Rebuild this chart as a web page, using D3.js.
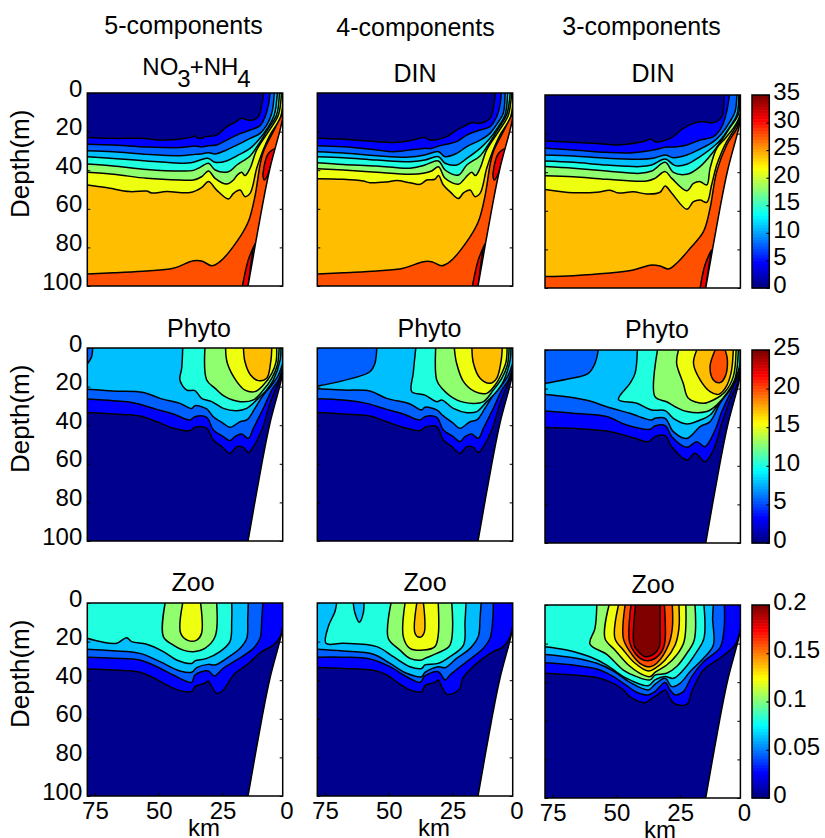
<!DOCTYPE html>
<html>
<head>
<meta charset="utf-8">
<script src="https://cdn.jsdelivr.net/npm/d3@7"></script>
<style>
  body { margin: 0; background: #fff; }
  svg { display: block; }
  text { font-family: "Liberation Sans", Arial, sans-serif; fill: #000; }
</style>
</head>
<body>
<div id="chart"></div>
<script>
// contour bands, lowest to highest
const bandColors = ['#00008f', '#0000ff', '#0060ff', '#00bfff', '#20ffdf', '#8fff70', '#efff10', '#ffbf00', '#ff5000', '#ef0000', '#800000'];

// each contour: [band above/inside it, [km, depth, km, depth, ...]]
const din5 = [
  [1, [78,23, 67.8,23.5, 57.5,23.5, 46.9,24.4, 36.4,22.6, 35.8,22.1, 35.1,23.1, 33.1,23.5, 31.9,22.6, 27.3,21.8, 23.4,17.5, 20.1,15.2, 17.5,13.1, 14.2,14.3, 11,12.3, 9.6,6.2, 8.8,0]],
  [2, [78,26.6, 67.8,27, 54.7,28, 41.7,28.3, 35.8,27.5, 33.2,28, 30.5,27.3, 27.3,26.9, 23.4,24.4, 19.4,21.8, 14.2,19.2, 10.3,16.9, 8.3,12.3, 7,6.2, 6.4,0]],
  [3, [78,29.9, 67.8,30.4, 54.7,31.8, 41.7,32.5, 35.8,31.8, 33.8,31.6, 30.5,30.9, 27.9,31.6, 23.4,29.5, 19.4,27, 14.2,23.5, 10.3,20.9, 7.7,16.6, 5.7,10.5, 4.7,0]],
  [4, [78,33, 67.8,33.9, 54.7,35.2, 41.7,36.4, 36.4,35.9, 33.8,34.7, 30.5,33.9, 27.9,35.9, 23.4,35.2, 19.4,32.6, 14.2,28.7, 10.9,24.4, 7,17.4, 4.7,11.4, 3.5,0]],
  [5, [78,36.8, 67.8,37.8, 54.7,39.6, 41.7,40.4, 36.4,40.1, 33.8,38.5, 30.5,36.4, 27.9,39.9, 22.7,40.8, 19.4,37.3, 14.2,32.6, 10.9,26.6, 7,18.3, 3.8,11.4, 2.7,0]],
  [6, [78,41.1, 67.8,42.1, 54.7,44.2, 41.7,45.1, 36.4,45.1, 33.2,43.4, 30.5,40.4, 27.9,44.2, 23.4,47.2, 20.7,45.1, 19.4,42.8, 17.5,41.1, 16.2,42.8, 14.2,39, 11.6,29.5, 7,20, 3.1,11.4, 1.9,0]],
  [7, [78,47.7, 70.7,49, 61.3,51.1, 54.7,50.8, 52.8,51.8, 46.9,51.1, 37.7,51.6, 33.2,49, 30.5,45.9, 27.3,50.3, 22.7,54.9, 20.7,52, 18.1,50.3, 16.2,53.7, 14.2,52, 11.6,39, 9.6,31.3, 6.4,21.8, 2.4,13.1, 1.4,6.2]],
  [8, [78,93.8, 67.8,93.1, 54.7,92.2, 44.3,90.8, 36.4,86.9, 33.2,87, 29.2,89.5, 26,87.4, 19.4,77, 14.9,66.7, 12.2,52.9, 10.3,37.3, 9,30.4, 5.1,20, 1.4,10.5]],
  [9, [9.2,42.5, 8.3,35.6, 7,31.3, 4.4,29, 5.7,35.6, 7,41.6, 8.6,45.1, 9.2,42.5]],
  [9, [17.2,100, 14.9,86.5, 12.2,77.9, 12.9,80.5, 14.9,100]]
];

const din4 = [
  [1, [78,23.5, 67.8,24, 54.7,25.2, 49.5,25.7, 41.7,24.7, 35.8,23.1, 33.8,24.4, 27.3,22.6, 23.4,19.2, 20.7,17.4, 17.5,15.4, 14.2,15.7, 10.3,13.1, 9,7.9, 8.2,0]],
  [2, [78,27.3, 67.8,27.8, 54.7,29.5, 48.2,30.4, 36.4,28.7, 33.2,28.7, 30.5,27.5, 27.3,26.6, 23.4,25.2, 19.4,21.8, 14.2,19.2, 10.3,17.4, 7.7,12.3, 6.4,6.2, 5.9,0]],
  [3, [78,30.4, 67.8,31.1, 54.7,32.5, 41.7,33.2, 35.8,32.1, 30.5,30.4, 27.9,33, 23.4,31.3, 19.4,27.8, 14.2,24.4, 10.3,20.9, 7,14.9, 5.1,10.5, 4.4,0]],
  [4, [78,33, 67.8,33.5, 54.7,34.7, 41.7,35.6, 35.8,34.7, 30.5,33, 27.9,36.4, 23.4,37.3, 19.4,33.9, 14.2,28.7, 10.9,24.4, 7,17.4, 4.4,11.4, 3.4,0]],
  [5, [78,36.1, 67.8,37, 54.7,37.8, 41.7,39, 35.8,37.3, 30.5,35.2, 27.9,39.9, 22.7,42.5, 19.4,37.3, 14.2,32.6, 10.9,26.6, 7,18.3, 3.8,11.4, 2.4,0]],
  [6, [78,39.2, 67.8,39.9, 54.7,41.1, 41.7,42.1, 36.4,41.6, 33.2,40.4, 30.5,38.2, 27.9,44.2, 22.7,47.3, 20.7,45.1, 19.2,42.8, 17.5,41.1, 16,42.8, 14.2,39, 11.6,29.5, 7,20, 3.1,11.4, 1.8,0]],
  [7, [78,44.4, 67.8,44.7, 60,45.6, 57.4,46.5, 50.8,46.1, 46.9,45.4, 41.7,46.5, 37.7,47.3, 35.1,45.1, 31.9,44.7, 30.5,42.8, 28.6,47.7, 26,51.1, 22.7,54.7, 20.7,51.8, 18.1,50.3, 16.2,53.7, 14.2,52, 11.6,39, 9.6,31.3, 6.4,21.8, 2.4,13.1, 1.4,6.2]],
  [8, [78,93.8, 67.8,93.1, 54.7,92.2, 44.3,90.8, 36.4,87.4, 33.2,87.4, 29.2,89.5, 26,87.4, 19.4,77, 14.9,66.7, 12.2,52.9, 10.3,37.3, 9,30.4, 5.1,20, 1.4,10.5]],
  [9, [9.2,42.5, 8.3,35.6, 7,31.3, 4.4,29, 5.7,35.6, 7,41.6, 8.6,45.1, 9.2,42.5]],
  [9, [17.2,100, 14.9,86.5, 12.2,77.9, 12.9,80.5, 14.9,100]]
];

const din3 = [
  [1, [78,23.8, 66.9,24.5, 56.4,25.2, 49.9,25.9, 40.8,24.5, 36.2,23, 34.9,24.2, 29,22.5, 23.8,17.3, 19.8,14.7, 16.6,13.8, 12,14.3, 8.7,11.2, 7.8,0]],
  [2, [78,27.6, 66.9,28.5, 53.8,29.7, 43.4,29.9, 35.5,28.5, 30.9,27.1, 26.4,26.8, 22.4,25.9, 17.2,23.3, 12,21.6, 8.7,16.4, 6.8,8.6, 5.7,0]],
  [3, [78,31.1, 66.9,31.6, 53.8,32.8, 40.8,33.3, 35.5,32.8, 30.9,31.1, 27.7,32.5, 22.4,31.1, 17.2,28, 12,24.2, 8.7,19.9, 5.5,13.8, 3.5,8.6, 2.8,0]],
  [4, [78,34.2, 66.9,34.9, 53.8,36.3, 40.8,37.1, 36.2,36.3, 30.9,33.2, 27,36.6, 22.4,35.9, 17.2,31.9, 12,26.8, 8.7,22.5, 5.5,16.4, 2.8,10.4, 2,0]],
  [5, [78,37.1, 66.9,38, 53.8,39.4, 40.8,40.6, 36.2,39.4, 30.9,34.9, 27.7,40.1, 22.4,41.1, 17.2,37.1, 12,29.4, 8.7,23.3, 5.5,16.9, 2.2,10, 1.8,0]],
  [6, [78,41.8, 66.9,42.3, 53.8,43.7, 38.1,44.6, 34.9,43.2, 30.9,39.7, 28.3,43.2, 22.4,49.6, 19.8,45.8, 17.2,44.9, 14.6,46.6, 13.3,38, 10.7,27.6, 7.4,22.5, 4.2,17.3, 1.5,10.4, 1.5,4.5]],
  [7, [78,48.9, 66.9,50.6, 57.7,50.4, 52.5,49.4, 49.2,50.8, 43.4,50.1, 38.1,51.3, 32.9,50.4, 30.9,47.1, 28.3,50.9, 22.4,59.2, 19.8,55.3, 17.2,54.4, 14.6,55.6, 12.7,46.6, 10.7,36.3, 8.7,29.4, 6.8,24.2, 2.8,15.5, 1.4,9.7]],
  [8, [78,94.1, 66.9,93.6, 53.8,92.4, 43.4,90.7, 36.8,88.2, 32.9,88.6, 29.6,90.1, 26.4,87.2, 21.1,79.4, 15.9,70.8, 13.3,58.7, 10.7,39.7, 6.8,25.9, 2.8,17.3, 1.3,11.2]],
  [9, [17.2,100, 15.3,88.1, 12.7,80.3, 13.3,84.6, 15,100]]
];

const phyto5 = [
  [1, [78,33.4, 67.8,34.2, 57.4,35.2, 50.8,38.2, 44.3,41.6, 37.7,42.8, 35.8,41.1, 31.2,41.6, 28.6,47.7, 25.3,51.1, 22.1,54.6, 19.4,51.1, 16.8,51.5, 14.9,54.2, 12.9,51.1, 9.6,42.5, 6.4,28.7, 3.8,20, 1.4,12.3]],
  [2, [78,26.4, 67.8,27.3, 58.7,28.7, 50.8,31.8, 44.3,34.2, 37.7,37.3, 35.8,35.6, 31.2,35.9, 28.6,42.5, 24.7,45.9, 22.1,48, 20.1,45.9, 17.5,44.6, 14.9,46.8, 12.9,41.6, 9,31.3, 5.7,21.8, 3.1,16.6, 1.4,10.5]],
  [3, [78,21.4, 67.8,22.3, 56,23, 49.5,26.1, 41.7,28.7, 37.1,31.3, 35.8,29.9, 31.2,31.6, 28.6,35.6, 24.7,39, 22.1,41.1, 18.1,38.2, 15.5,37.3, 12.3,31.3, 9,24.4, 5.7,19.2, 3.1,14, 1.4,7.9]],
  [2, [78,8.3, 76.3,4.5, 75.9,0]],
  [4, [40.6,0, 41,10.5, 41.7,16.6, 39,21.8, 35.8,22.1, 33.2,26.1, 29.2,27.8, 24.7,31.3, 19.4,32.5, 15.5,31.3, 11.6,26.9, 8.3,22.6, 5.1,16.6, 2.4,6.2, 2.1,0]],
  [5, [31.9,0, 31.2,16.6, 27.9,20.9, 24,25.2, 18.1,27.8, 12.9,26.9, 9,21.8, 5.7,15.7, 3.5,8.8, 2.8,0]],
  [6, [23.8,0, 23.1,7.9, 19.4,17.4, 16.2,21.8, 12.3,22.6, 9,19.2, 5.7,13.1, 4,7.1, 3.8,0]],
  [7, [16.8,0, 16.2,7.1, 14,14, 11,16.9, 7.7,15.7, 6.1,7.1, 5.7,0]]
];

const phyto4 = [
  [1, [78,33.4, 67.8,34.2, 57.4,35.2, 50.8,38.2, 44.3,41.1, 37.7,42.8, 35.8,41.1, 31.2,40.8, 28.6,47.7, 25.3,51.1, 22.1,54.6, 19.4,51.1, 16.8,51.5, 14.9,54.2, 12.9,51.1, 9.6,42.5, 6.4,28.7, 3.8,20, 1.4,12.3]],
  [2, [78,26.3, 67.8,27, 58.7,28.7, 50.8,31.8, 44.3,34.2, 37.7,37.3, 35.8,35.6, 31.2,35.9, 28.6,42.5, 24.7,45.9, 22.1,48.5, 20.1,45.9, 17.5,44.6, 14.9,46.8, 12.9,41.6, 9,31.3, 5.7,21.8, 3.1,16.6, 1.4,10.5]],
  [3, [78,21.1, 67.8,21.8, 57.4,22.3, 50.8,26.1, 41.7,29, 37.1,32.1, 35.8,30.7, 31.2,32.1, 28.6,35.2, 24.7,39, 22.1,41.6, 18.1,38.2, 15.5,37.3, 12.3,31.3, 9,24.4, 5.7,19.2, 3.1,14, 1.4,7.9]],
  [2, [78,19.7, 67.8,16.9, 57.4,12.3, 55.4,7.9, 54.7,0]],
  [4, [39.4,0, 40.4,13.1, 41,22.6, 35.8,24.4, 31.2,27.8, 29.2,26.9, 24.7,31.3, 19.4,33.5, 15.5,33, 11.6,27.8, 8.3,23.5, 5.1,17.4, 2.4,6.2, 2.1,0]],
  [5, [31.6,0, 31.2,16.6, 29.2,20.9, 23.4,26.9, 16.8,28.7, 12.9,27.8, 9,21.8, 5.7,15.7, 3.5,8.8, 2.8,0]],
  [6, [24.3,0, 23.4,7.9, 20.7,17.4, 16.2,22.6, 11.6,23.5, 8.3,19.2, 5.7,13.1, 4,7.1, 3.6,0]],
  [7, [17.4,0, 16.8,7.9, 14.2,15.7, 10.3,18.3, 7.7,15.7, 6,7.1, 5.5,0]]
];

const phyto3 = [
  [1, [78,40.1, 66.9,40.6, 53.8,42, 44.7,44.9, 37.5,47.5, 34.9,44.9, 30.9,44.4, 28.3,50.1, 22.4,57, 19.2,53.5, 15.3,57.9, 12,51.8, 8.7,38, 5.5,25.9, 2.8,18.1, 1.5,12.1]],
  [2, [78,31.6, 66.9,32.8, 53.8,34.5, 46,38.9, 36.8,41.1, 34.9,39.4, 30.9,39.2, 28.3,44.9, 22.4,50.4, 18.5,47.5, 15.3,50.1, 11.3,41.4, 8.7,31.9, 4.8,20.7, 1.5,11.2]],
  [3, [78,23, 69.5,24.2, 60.4,26.4, 53.8,29.4, 44.7,32.8, 36.2,36.3, 34.9,35.4, 30.9,35.4, 27.7,42.3, 22.4,45.8, 17.2,39.7, 13.3,37.1, 9.4,27.6, 5.5,19.9, 1.5,9.5]],
  [2, [78,17.3, 69.5,15.2, 61,12.1, 58.4,6.9, 57.1,0]],
  [4, [41.8,0, 42.7,12.1, 44.7,17.3, 49.2,25.6, 42,27.6, 36.2,31.1, 30.9,31.4, 27.7,35.4, 22.4,38.3, 17.2,36.3, 13.3,33.7, 9.4,26.8, 5.5,20.7, 1.8,8.6, 1.5,0]],
  [5, [33.9,0, 34.9,24.2, 30.3,26.8, 27,29.4, 22.4,31.9, 14.6,31.9, 10.7,28.5, 6.8,22.5, 3.5,14.7, 2.2,0]],
  [6, [25.7,0, 26.4,6.9, 23.8,17.3, 21.8,25, 15.9,27.6, 12,25.9, 7.4,21.6, 4.2,13.8, 3.1,0]],
  [7, [18.5,0, 19.8,6.9, 17.2,15.5, 13.3,21.6, 10,23, 7.4,19.9, 5.1,12.1, 4.2,0]],
  [8, [11.3,0, 13.3,8.6, 12,15.5, 9.4,16.9, 7.4,13.8, 6.5,5.2, 7.4,0]]
];

const zoo5 = [
  [1, [78,34.2, 67.8,34.7, 57.4,35.9, 52.1,38.7, 46.9,42.5, 41.7,45.4, 37.1,45.9, 35.8,43.3, 31.9,41.6, 30.6,40.4, 29.2,43.3, 27.3,46.8, 24.7,45.1, 22.1,39.9, 20.1,36.4, 15.5,32.1, 9.6,25.2, 5.1,21.8, 2.4,17.4, 1.4,12.3]],
  [2, [78,28.1, 67.8,28.6, 57.4,29.5, 49.5,33.8, 44.3,37.3, 37.1,41.1, 35.8,37.3, 30.6,35.2, 28.2,37.8, 24.7,33.8, 19.4,29.5, 12.9,23.5, 10.3,18.3, 9.6,7.9, 9.2,0]],
  [3, [78,24, 67.8,24.8, 57.4,26.1, 49.5,30.4, 41.7,35.2, 37.1,35.9, 35.1,33.5, 30.6,31.8, 27.9,32.1, 23.4,28.7, 18.1,23.5, 15.5,18.3, 15.1,7.9, 14.9,0]],
  [4, [78,18.3, 73,20, 66.5,20.9, 62.6,18, 60.6,20, 54.7,21.4, 48.2,25.2, 43,29.5, 37.1,31.3, 35.8,30, 31.2,28.7, 26,25.2, 22.1,20, 21.4,9.7, 21.4,0]],
  [5, [47.5,0, 48.2,17.4, 44.3,21.8, 40.4,24.4, 36.4,25.2, 31.9,23.5, 27.9,17.4, 27.3,0]],
  [6, [40.6,0, 41.4,15.7, 38.4,19.5, 35.1,19.2, 33.2,15.7, 33.6,0]]
];

const zoo4 = [
  [1, [78,33.4, 67.8,33.9, 56,34.9, 50.8,37.3, 45.6,42.1, 41.7,45.1, 37.1,45.9, 35.8,42.8, 31.9,41.1, 30.6,39.9, 29.2,43.3, 27.3,47.3, 24.7,46.8, 22.1,44.2, 21,39, 15.5,31.3, 9.6,25.6, 5.1,22.6, 2.4,17.4, 1.4,12.3]],
  [2, [78,28.1, 67.8,28.1, 57.4,29, 49.5,33, 43,38.2, 37.7,41.1, 35.8,37.8, 30.6,35.6, 27.9,39.9, 26,37.3, 19.4,30.4, 12.9,23.5, 10.3,18.3, 9.2,7.9, 9,0]],
  [3, [78,24, 67.8,24.9, 56,26.6, 49.5,31.3, 43,36.4, 37.1,38.2, 35.8,35.9, 30.6,33, 27.9,33.5, 23.4,28.7, 18.1,23.5, 14.9,17.4, 14.2,7.9, 13.8,0]],
  [4, [70.4,0, 71.1,4.5, 73.7,12.3, 74.6,20.9, 67.8,20.9, 54.7,22.6, 48.2,27.8, 41.7,33, 37.1,33.9, 35.8,32.1, 30.6,31.3, 26,27.8, 20.7,21.8, 20.1,9.7, 19.7,0]],
  [3, [63.9,0, 63.2,5.4, 61.5,10, 60,5.4, 59.7,0]],
  [5, [49.1,0, 50.2,18.3, 45.6,24.4, 41.7,28.7, 37.1,29.5, 35.8,28.7, 31.2,26.1, 26,21.8, 25.3,0]],
  [6, [43.6,0, 44.3,17.4, 41.7,23.5, 36.4,24.4, 31.9,22.6, 30.6,16.6, 30.6,0]],
  [7, [39,0, 39.7,15.7, 38,17.8, 36.2,15.7, 36.4,0]]
];

const zoo3 = [
  [1, [78,35.4, 66.9,36.3, 57.7,37.6, 51.2,40.6, 47.3,44, 44.7,47.5, 38.8,50.6, 36.2,48.4, 33.6,46.3, 30.9,44, 29,48.4, 27,51.3, 22.4,51.5, 20.5,44.9, 15.9,33.7, 8.7,26.8, 3.5,20.7, 1.3,12.1]],
  [2, [78,29.9, 66.9,31.1, 57.7,33.2, 51.2,37.1, 46,41.8, 42.1,45.2, 37.5,46.6, 34.9,44.9, 30.9,40.1, 29,44, 27,46.6, 23.8,44.9, 20.5,37.1, 15.9,29.4, 9.4,22.1, 7.8,12.1, 7.7,0]],
  [3, [78,25.6, 66.9,27.3, 57.7,30.2, 51.2,34.2, 44.7,40.1, 37.5,44, 34.9,41.1, 30.9,38, 28.3,42.3, 25.1,40.6, 21.1,34.5, 15.9,27.6, 12,20.7, 12.3,6.9, 12,0]],
  [4, [78,21.6, 69.5,23.3, 60.4,26.8, 53.8,31.1, 47.3,37.1, 37.5,41.8, 34.9,38.8, 30.9,37.1, 27.7,38, 23.8,33.7, 18.5,24.2, 15.7,17.3, 15.7,0]],
  [5, [57.7,0, 58.4,12.1, 60.4,20.2, 53.8,25.6, 47.3,33.7, 42.1,37.1, 36.8,38.8, 34.9,36.3, 30.3,35.4, 26.4,31.9, 22.4,25, 19.5,18.1, 19.2,0]],
  [6, [52.9,0, 54.5,17.3, 50.6,23.3, 45.3,31.1, 40.8,35.4, 36.8,37.1, 34.9,34.9, 30.3,31.1, 26.4,25.9, 23.5,19, 22.8,0]],
  [7, [49.2,0, 50.6,17.3, 47.3,23.3, 42.7,30.2, 37.5,34.2, 34.9,32.8, 30.9,28.5, 27,20.7, 25.5,12.1, 25.5,0]],
  [8, [46.6,0, 47.3,17.3, 44.7,24.2, 40.8,30.2, 36.8,32, 34.2,30.2, 29.6,20.7, 28.1,12.1, 28.1,0]],
  [9, [44.3,0, 44.9,19, 42.7,25, 39.4,28.5, 36.2,28.5, 32.3,24.2, 31,19, 31.2,0]],
  [10, [42.5,0, 43.1,20.7, 41.4,24.2, 38.8,26.8, 35.5,25.6, 33.2,21.6, 32.9,12.1, 32.9,0]]
];

// sea floor, km offshore and depth
const shoreKm = [15, 9.6, 6.4, 2.4, 1.4];
const shoreDepth = [100, 60, 39, 19, 13];

const depthTicks = [0, 20, 40, 60, 80, 100];
const kmTicks = [75, 50, 25, 0];
const din_ticks = [0, 5, 10, 15, 20, 25, 30, 35];
const phyto_ticks = [0, 5, 10, 15, 20, 25];
const zoo_ticks = [0, 0.05, 0.1, 0.15, 0.2];

const rows = [
  {panels: [din5, din4, din3], below: true, max: 35, ticks: din_ticks, titles: ['', 'DIN', 'DIN']},
  {panels: [phyto5, phyto4, phyto3], below: false, max: 25, ticks: phyto_ticks, titles: ['Phyto', 'Phyto', 'Phyto']},
  {panels: [zoo5, zoo4, zoo3], below: false, max: 0.2, ticks: zoo_ticks, titles: ['Zoo', 'Zoo', 'Zoo']}
];

const width = 825, height = 838;
const panelW = 195.4, panelH = 193;
const colX = [87.3, 317.3, 545];
const rowY = [[93, 93, 95], [348, 348, 350], [603, 603, 605]];
const xLeft = 78, xRight = 1.4;
const fs = 24;
const titleFs = 25;
const lineW = 1.5;

const svg = d3.select('#chart').append('svg')
  .attr('width', width)
  .attr('height', height);

const x = d3.scaleLinear().domain([78, 0]).range([0, 199]);
const y = d3.scaleLinear().domain([0, 100]).range([0, panelH]);
const line = d3.line().x(d => x(d[0])).y(d => y(d[1])).curve(d3.curveCatmullRom.alpha(0.5));

// flat list to pairs
function pairs(flat) {
  return d3.range(0, flat.length, 2).map(i => [flat[i], flat[i + 1]]);
}

// panel corners needed to close a contour so it can be filled
function closeCorners(p, below) {
  const a = p[0], b = p[p.length - 1];
  if (a[1] === b[1]) return [];
  if (below) {
    const extra = b[1] === 0 ? [[xRight, 0]] : [];
    return extra.concat([[xRight, 100], [xLeft, 100]]);
  }
  if (b[1] === 0) return [[xLeft, 0]];
  return [[xRight, 0], [xLeft, 0]];
}

function fillPath(p, corners) {
  return line(p) + corners.map(d => `L${x(d[0])},${y(d[1])}`).join('') + 'Z';
}

rows.forEach((row, r) => {
  row.panels.forEach((contours, c) => {
    const g = svg.append('g').attr('transform', `translate(${colX[c]},${rowY[r][c]})`);
    const clipId = `clip-${r}-${c}`;
    g.append('clipPath').attr('id', clipId)
      .append('rect').attr('width', panelW).attr('height', panelH);

    const plot = g.append('g').attr('clip-path', `url(#${clipId})`);
    plot.append('rect')
      .attr('width', panelW)
      .attr('height', panelH)
      .attr('fill', bandColors[0]);

    contours.forEach(([band, flat]) => {
      const p = pairs(flat);
      plot.append('path')
        .attr('d', fillPath(p, closeCorners(p, row.below)))
        .attr('fill', bandColors[band]);
      plot.append('path')
        .attr('d', line(p))
        .attr('fill', 'none')
        .attr('stroke', '#000')
        .attr('stroke-width', lineW);
    });

    // land
    const land = shoreKm.map((k, i) => [k, shoreDepth[i]]);
    plot.append('path')
      .attr('d', fillPath(land, [[xRight, 100]]))
      .attr('fill', '#fff');
    plot.append('path')
      .attr('d', line(land))
      .attr('fill', 'none')
      .attr('stroke', '#000')
      .attr('stroke-width', lineW);

    g.append('rect')
      .attr('width', panelW)
      .attr('height', panelH)
      .attr('fill', 'none')
      .attr('stroke', '#000')
      .attr('stroke-width', lineW);

    // depth axis, labels on the first column only
    const yAxis = g.append('g')
      .call(d3.axisLeft(y).tickValues(depthTicks).tickSize(-3).tickPadding(5).tickFormat(c === 0 ? d => d : ''));
    yAxis.select('.domain').remove();
    yAxis.selectAll('text')
      .attr('font-size', fs)
      .attr('dy', '0.13em')
      .style('font-family', '"Liberation Sans", Arial, sans-serif');

    const yAxisR = g.append('g')
      .attr('transform', `translate(${panelW},0)`)
      .call(d3.axisRight(y).tickValues(depthTicks).tickSize(-3).tickFormat(''));
    yAxisR.select('.domain').remove();

    // km axis on the bottom row only
    if (r === 2) {
      const xAxis = g.append('g')
        .attr('transform', `translate(0,${panelH})`)
        .call(d3.axisBottom(x).tickValues(kmTicks).tickSize(-3).tickPadding(6));
      xAxis.select('.domain').remove();
      xAxis.selectAll('.tick').filter(d => d === 0).select('line').remove();
      xAxis.selectAll('text')
        .attr('font-size', fs)
        .style('font-family', '"Liberation Sans", Arial, sans-serif');
    }
  });

  // colorbar
  const barX = 752, barW = 17.3, barY = rowY[r][2];
  const jet = d3.scaleLinear()
    .domain([0, 1 / 8, 3 / 8, 5 / 8, 7 / 8, 1])
    .range(['#000080', '#0000ff', '#00ffff', '#ffff00', '#ff0000', '#800000']);
  const steps = d3.range(64);
  const band = d3.scaleBand().domain(steps).range([panelH, 0]);
  const bar = svg.append('g').attr('transform', `translate(${barX},${barY})`);
  bar.selectAll('rect')
    .data(steps)
    .join('rect')
    .attr('y', d => band(d))
    .attr('width', barW)
    .attr('height', band.bandwidth() + 0.5)
    .attr('fill', d => jet(d / 63));
  bar.append('rect')
    .attr('width', barW)
    .attr('height', panelH)
    .attr('fill', 'none')
    .attr('stroke', '#000')
    .attr('stroke-width', lineW);
  const cScale = d3.scaleLinear().domain([0, row.max]).range([panelH, 0]);
  const cAxis = bar.append('g')
    .attr('transform', `translate(${barW},0)`)
    .call(d3.axisRight(cScale).tickValues(row.ticks).tickFormat(d => String(d)).tickSize(-3).tickPadding(4));
  cAxis.select('.domain').remove();
  cAxis.selectAll('text')
    .attr('font-size', fs)
    .attr('dy', '0.19em')
    .style('font-family', '"Liberation Sans", Arial, sans-serif');
});

// text labels
const colTitles = ['5-components', '4-components', '3-components'];
const colTitleX = [183.5, 415.5, 641.5];
const colTitleY = [34, 36, 35];
svg.selectAll('.col-title')
  .data(colTitles)
  .join('text')
  .attr('class', 'col-title')
  .attr('x', (d, i) => colTitleX[i])
  .attr('y', (d, i) => colTitleY[i])
  .attr('text-anchor', 'middle')
  .attr('font-size', titleFs)
  .text(d => d);

const subX = [[0, 415, 653], [199, 429.5, 657], [193, 425, 653]];
const subY = [[0, 82, 82], [337, 337, 338], [591, 591, 593]];
rows.forEach((row, r) => {
  row.titles.forEach((t, c) => {
    if (!t) return;
    svg.append('text')
      .attr('x', subX[r][c])
      .attr('y', subY[r][c])
      .attr('text-anchor', 'middle')
      .attr('font-size', titleFs)
      .text(t);
  });
});

const chem = svg.append('text')
  .attr('x', 196.5)
  .attr('y', 75)
  .attr('text-anchor', 'middle')
  .attr('font-size', fs);
chem.append('tspan').text('NO');
chem.append('tspan').attr('dy', 12).attr('dx', -1).text('3');
chem.append('tspan').attr('dy', -12).attr('dx', -1).text('+NH');
chem.append('tspan').attr('dy', 12).attr('dx', -1).text('4');

const depthLabelY = [218, 473, 728];
depthLabelY.forEach(cy => {
  svg.append('text')
    .attr('transform', `translate(29,${cy}) rotate(-90)`)
    .attr('text-anchor', 'start')
    .attr('font-size', 26)
    .text('Depth(m)');
});

const kmLabelX = [204, 434, 660];
const kmLabelY = [836, 836, 838];
kmLabelX.forEach((kx, i) => {
  svg.append('text')
    .attr('x', kx)
    .attr('y', kmLabelY[i])
    .attr('text-anchor', 'middle')
    .attr('font-size', fs)
    .text('km');
});
</script>
</body>
</html>
